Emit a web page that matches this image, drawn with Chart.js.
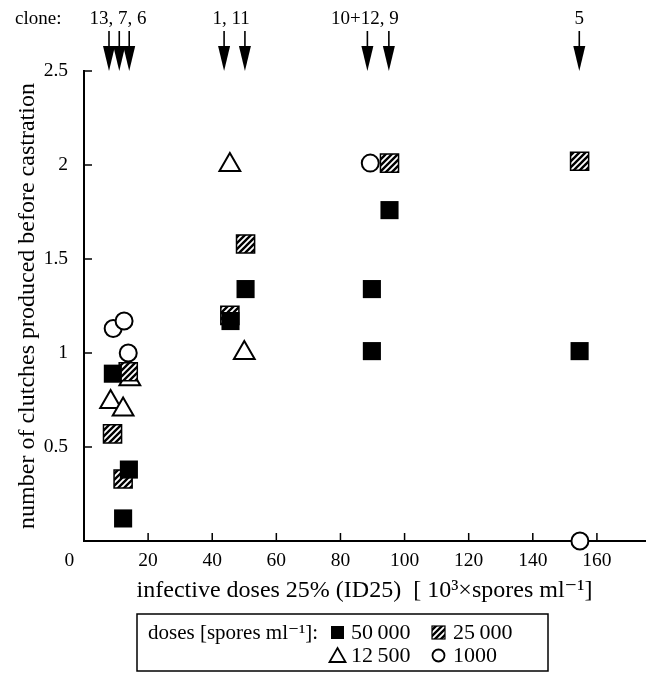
<!DOCTYPE html>
<html>
<head>
<meta charset="utf-8">
<script src="https://cdn.jsdelivr.net/npm/chart.js@4/dist/chart.umd.min.js"></script>
<style>
  body { margin: 0; background: #fff; }
  canvas { display: block; }
</style>
</head>
<body>
<canvas id="chart" width="650" height="675"></canvas>
<script>
// values
const xTicks = [0, 20, 40, 60, 80, 100, 120, 140, 160];
const yTicks = [0.5, 1, 1.5, 2, 2.5];

const filledX = [9.0, 14.0, 12.2, 45.7, 50.4, 89.8, 89.8, 95.3, 154.6];
const filledY = [0.89, 0.38, 0.12, 1.17, 1.34, 1.34, 1.01, 1.76, 1.01];
const hatchedX = [13.8, 8.9, 12.2, 45.5, 50.4, 95.3, 154.6];
const hatchedY = [0.90, 0.57, 0.33, 1.20, 1.58, 2.01, 2.02];
const triX = [14.3, 8.3, 12.2, 45.5, 50.0];
const triY = [0.86, 0.74, 0.70, 2.0, 1.0];
const circX = [9.1, 12.5, 13.8, 89.3, 154.7];
const circY = [1.13, 1.17, 1.00, 2.01, 0.0];

// clone markers above the plot
const cloneArrowX = [7.8, 11.0, 14.1, 43.7, 50.2, 88.4, 95.1, 154.5];
const cloneLabels = ['13, 7, 6', '1, 11', '10+12, 9', '5'];
const cloneLabelX = [10.6, 45.9, 87.6, 154.5];

const FONT = '"Liberation Serif", "DejaVu Serif", serif';

function pts(xs, ys) {
  return xs.map((x, i) => ({ x: x, y: ys[i] }));
}

// diagonal hatching
function makeHatch() {
  const c = document.createElement('canvas');
  c.width = 6; c.height = 6;
  const g = c.getContext('2d');
  g.fillStyle = '#fff';
  g.fillRect(0, 0, 6, 6);
  g.strokeStyle = '#000';
  g.lineWidth = 2.4;
  g.beginPath();
  g.moveTo(-1, 7); g.lineTo(7, -1);
  g.moveTo(-4, 4); g.lineTo(4, -4);
  g.moveTo(2, 10); g.lineTo(10, 2);
  g.stroke();
  return g.createPattern(c, 'repeat');
}
const hatch = makeHatch();

const extras = {
  id: 'extras',
  beforeDatasetsDraw(chart) {
    const ctx = chart.ctx;
    const xs = chart.scales.x, ys = chart.scales.y;
    const area = chart.chartArea;
    ctx.save();
    ctx.strokeStyle = '#000';
    ctx.lineWidth = 1.5;
    ctx.beginPath();
    xTicks.forEach(v => {
      if (v === 0) return;
      const px = xs.getPixelForValue(v);
      ctx.moveTo(px, area.bottom);
      ctx.lineTo(px, area.bottom - 8);
    });
    yTicks.forEach(v => {
      const py = ys.getPixelForValue(v);
      ctx.moveTo(area.left, py);
      ctx.lineTo(area.left + 8, py);
    });
    ctx.stroke();
    ctx.restore();
  },
  afterDraw(chart) {
    const ctx = chart.ctx;
    const xs = chart.scales.x;
    ctx.save();
    ctx.fillStyle = '#000';
    ctx.strokeStyle = '#000';

    // clone labels and arrows
    ctx.font = '19px ' + FONT;
    ctx.textAlign = 'left';
    ctx.textBaseline = 'middle';
    ctx.fillText('clone:', 15, 19);
    ctx.textAlign = 'center';
    cloneLabels.forEach((t, i) => {
      ctx.fillText(t, xs.getPixelForValue(cloneLabelX[i]), 19);
    });
    cloneArrowX.forEach(v => {
      const px = xs.getPixelForValue(v);
      ctx.lineWidth = 1.6;
      ctx.beginPath();
      ctx.moveTo(px, 31);
      ctx.lineTo(px, 48);
      ctx.stroke();
      ctx.beginPath();
      ctx.moveTo(px - 6, 46);
      ctx.lineTo(px + 6, 46);
      ctx.lineTo(px, 71);
      ctx.closePath();
      ctx.fill();
    });

    // legend box
    ctx.lineWidth = 1.5;
    ctx.strokeRect(137, 614, 411, 57);
    ctx.font = '21px ' + FONT;
    ctx.textAlign = 'left';
    ctx.fillText('doses [spores ml\u207B\u00B9]:', 148, 633);

    ctx.font = '22px ' + FONT;
    ctx.fillRect(331, 626, 13, 13);
    ctx.fillText('50\u2009000', 351, 633);

    ctx.fillStyle = hatch;
    ctx.fillRect(432, 626, 13, 13);
    ctx.lineWidth = 1.2;
    ctx.strokeRect(432, 626, 13, 13);
    ctx.fillStyle = '#000';
    ctx.fillText('25\u2009000', 453, 633);

    ctx.lineWidth = 1.8;
    ctx.beginPath();
    ctx.moveTo(337.5, 648);
    ctx.lineTo(345.5, 662);
    ctx.lineTo(329.5, 662);
    ctx.closePath();
    ctx.stroke();
    ctx.fillText('12\u2009500', 351, 656);

    ctx.beginPath();
    ctx.arc(438.5, 655.5, 6, 0, Math.PI * 2);
    ctx.stroke();
    ctx.fillText('1000', 453, 656);

    ctx.restore();
  }
};

new Chart(document.getElementById('chart'), {
  type: 'scatter',
  data: {
    datasets: [
      {
        label: '50000',
        data: pts(filledX, filledY),
        pointStyle: 'rect',
        pointRadius: 12.8,
        backgroundColor: '#000',
        borderColor: '#000',
        borderWidth: 0,
        clip: false
      },
      {
        label: '25000',
        data: pts(hatchedX, hatchedY),
        pointStyle: 'rect',
        pointRadius: 12.8,
        backgroundColor: hatch,
        borderColor: '#000',
        borderWidth: 1.5,
        clip: false
      },
      {
        label: '12500',
        data: pts(triX, triY),
        pointStyle: 'triangle',
        pointRadius: 12,
        backgroundColor: '#fff',
        borderColor: '#000',
        borderWidth: 2,
        clip: false
      },
      {
        label: '1000',
        data: pts(circX, circY),
        pointStyle: 'circle',
        pointRadius: 8.5,
        backgroundColor: '#fff',
        borderColor: '#000',
        borderWidth: 2,
        clip: false
      }
    ]
  },
  options: {
    responsive: false,
    animation: false,
    layout: { autoPadding: false, padding: { top: 71, right: 5, bottom: 70, left: 0 } },
    plugins: {
      legend: { display: false },
      tooltip: { enabled: false }
    },
    scales: {
      x: {
        type: 'linear',
        min: 0,
        max: 175,
        afterBuildTicks: s => { s.ticks = xTicks.map(v => ({ value: v })); },
        afterFit: s => { s.height = 64; s.paddingLeft = 0; s.paddingRight = 0; },
        grid: { display: false, drawTicks: false },
        border: { display: true, color: '#000', width: 2 },
        ticks: {
          autoSkip: false,
          maxRotation: 0,
          padding: 8,
          color: '#000',
          font: { family: FONT, size: 19.5 },
          callback: v => (v === 0 ? '0\u2003\u2002' : String(v))
        },
        title: {
          display: true,
          text: 'infective doses 25% (ID25)  [ 10\u00B3\u00D7spores ml\u207B\u00B9]',
          color: '#000',
          font: { family: FONT, size: 24 },
          padding: { top: 0, bottom: 0 }
        }
      },
      y: {
        type: 'linear',
        min: 0,
        max: 2.5,
        afterBuildTicks: s => { s.ticks = yTicks.map(v => ({ value: v })); },
        afterFit: s => { s.width = 84; s.paddingTop = 0; s.paddingBottom = 0; },
        grid: { display: false, drawTicks: false },
        border: { display: true, color: '#000', width: 2 },
        ticks: {
          padding: 16,
          color: '#000',
          font: { family: FONT, size: 19.5 },
          callback: v => String(v)
        },
        title: {
          display: true,
          text: 'number of clutches produced before castration',
          color: '#000',
          font: { family: FONT, size: 24 },
          padding: { top: 13, bottom: 0 }
        }
      }
    }
  },
  plugins: [extras]
});
</script>
</body>
</html>
